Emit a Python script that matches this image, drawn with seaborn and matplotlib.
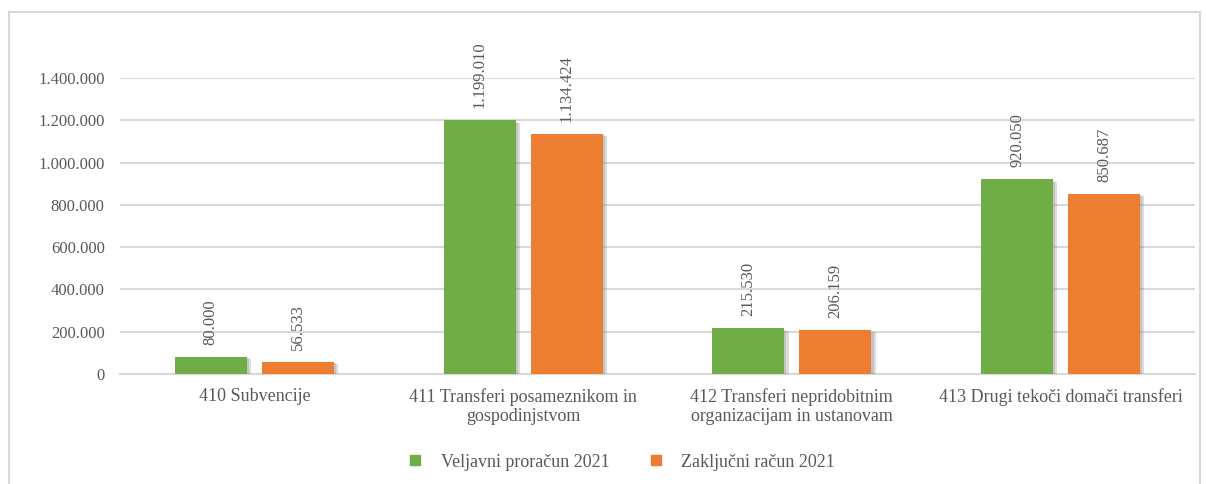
import pandas as pd
import seaborn as sns
import matplotlib.pyplot as plt
import matplotlib.patheffects as pe
from matplotlib.lines import Line2D
from matplotlib.patches import Rectangle

# Data
categories = [
    "410 Subvencije",
    "411 Transferi posameznikom in\ngospodinjstvom",
    "412 Transferi nepridobitnim\norganizacijam in ustanovam",
    "413 Drugi tekoči domači transferi",
]
series_names = ["Veljavni proračun 2021", "Zaključni račun 2021"]
veljavni = [80000, 1199010, 215530, 920050]
zakljucni = [56533, 1134424, 206159, 850687]
colors = ["#70AD47", "#ED7D31"]
y_ticks = [0, 200000, 400000, 600000, 800000, 1000000, 1200000, 1400000]

df = pd.DataFrame({
    "Kategorija": categories * 2,
    "Serija": [series_names[0]] * 4 + [series_names[1]] * 4,
    "Znesek": veljavni + zakljucni,
})


def fmt(v):
    return f"{v:,.0f}".replace(",", ".")


sns.set_theme(style="white")
plt.rcParams["font.family"] = ["Liberation Serif", "DejaVu Serif"]
text_color = "#595959"
grid_color = "#D9D9D9"

fig = plt.figure(figsize=(12.06, 4.84), dpi=100)
ax = fig.add_axes([120 / 1206, 110 / 484, 1075 / 1206, 296 / 484])

sns.barplot(
    data=df,
    x="Kategorija",
    y="Znesek",
    hue="Serija",
    palette=colors,
    width=0.648,
    gap=0.173,
    saturation=1,
    errorbar=None,
    legend=False,
    linewidth=0,
    ax=ax,
    zorder=3,
)

# Soft shadow to the right of bars
for bar in ax.patches:
    bar.set_edgecolor("none")
    bar.set_linewidth(0)
    bar.set_path_effects([
        pe.SimplePatchShadow(offset=(3, -1.5), shadow_rgbFace="#8c8c8c", alpha=0.3),
        pe.SimplePatchShadow(offset=(1.5, -0.8), shadow_rgbFace="#8c8c8c", alpha=0.3),
        pe.Normal(),
    ])

# Data labels
for cont in ax.containers:
    ax.bar_label(
        cont,
        labels=[fmt(v) for v in cont.datavalues],
        rotation=90,
        padding=9,
        fontsize=12,
        color=text_color,
    )

ax.set_xlim(-0.5, 3.5)
ax.set_ylim(0, 1400000)
ax.set_yticks(y_ticks)
ax.set_yticklabels([fmt(v) for v in y_ticks])
ax.yaxis.grid(True, color=grid_color, linewidth=1.5, zorder=0)
ax.set_axisbelow(True)

for side in ["top", "right", "left"]:
    ax.spines[side].set_visible(False)
ax.spines["bottom"].set_color(grid_color)
ax.spines["bottom"].set_linewidth(1.5)

ax.tick_params(axis="y", length=0, pad=11, labelsize=12, labelcolor=text_color)
ax.tick_params(axis="x", length=0, pad=10, labelsize=13, labelcolor=text_color)
ax.set_xlabel("")
ax.set_ylabel("")

# Legend
handles = [
    Line2D([0], [0], marker="s", linestyle="none", markersize=7,
           markerfacecolor=c, markeredgecolor=c)
    for c in colors
]
fig.legend(
    handles,
    series_names,
    loc="center",
    bbox_to_anchor=(0.511, 0.045),
    ncol=2,
    frameon=False,
    fontsize=13,
    labelcolor=text_color,
    handletextpad=0.4,
    columnspacing=1.6,
)

# Chart border
fig.patches.append(Rectangle(
    (9 / 1206, -0.05), 1191 / 1206, (484 - 12) / 484 + 0.05,
    transform=fig.transFigure, fill=False, edgecolor=grid_color, linewidth=1.5,
))

fig.savefig("out.png", dpi=100)
plt.close()
